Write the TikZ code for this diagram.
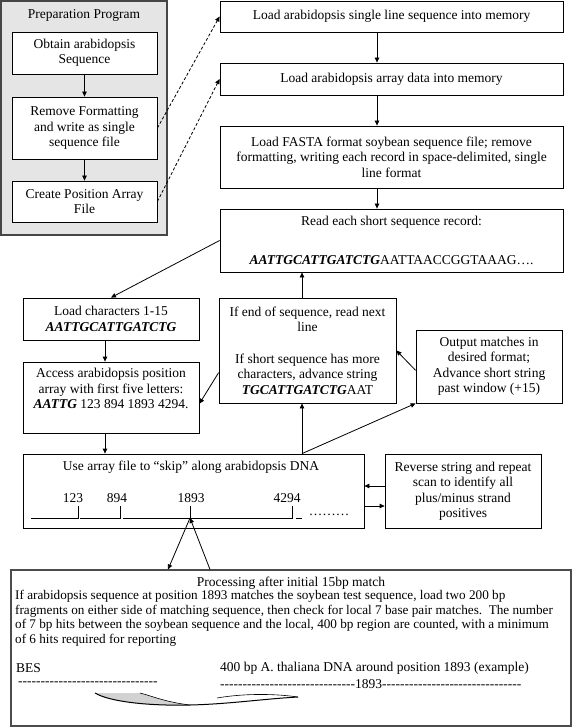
\documentclass[tikz,border=0pt]{standalone}
\usepackage{fontspec}
\setmainfont{Liberation Serif}
\newfontfamily\plainfont{Liberation Serif}[Ligatures=TeXOff]
\usetikzlibrary{arrows.meta}
\begin{document}
\begin{tikzpicture}[x=1pt,y=-1pt,
  every node/.style={font=\fontsize{13.5}{15.5}\selectfont, inner sep=0pt},
  box/.style={draw, fill=white, line width=0.8pt, align=center},
  arr/.style={-{Triangle[length=5pt,width=4.5pt]}, line width=0.8pt},
  dasharr/.style={arr, dash pattern=on 3pt off 2pt},
]
\useasboundingbox (0,0) rectangle (576,727);

% preparation panel
\node[draw=gray!55!black, fill=gray!20, line width=1.2pt, minimum width=166pt, minimum height=234pt] (prep) at (84,118) {};
\node (preptitle) at (84,15) {Preparation Program};
\node[box, minimum width=145pt, minimum height=42pt] (p1) at (84.5,53) {Obtain arabidopsis\\Sequence};
\node[box, minimum width=145pt, minimum height=62pt] (p2) at (84.5,128) {Remove Formatting\\and write as single\\sequence file};
\node[box, minimum width=145pt, minimum height=41pt] (p3) at (84.5,201.5) {Create Position Array\\File};

% right column
\node[box, minimum width=343pt, minimum height=31pt] (r1) at (391.5,16.5) {Load arabidopsis single line sequence into memory};
\node[box, minimum width=343pt, minimum height=32pt] (r2) at (391.5,79) {Load arabidopsis array data into memory};
\node[box, minimum width=343pt, minimum height=62pt] (r3) at (391.5,157) {Load FASTA format soybean sequence file; remove\\formatting, writing each record in space-delimited, single\\line format};
\node[box, minimum width=343pt, minimum height=63pt] (r4) at (391.5,240.5) {Read each short sequence record:\\[24pt]\textbf{\textit{AATTGCATTGATCTG}}AATTAACCGGTAAAG\dots.};

% middle row
\node[box, minimum width=176pt, minimum height=42pt] (lc) at (111,319) {Load characters 1-15\\\textbf{\textit{AATTGCATTGATCTG}}};
\node[box, minimum width=176pt, minimum height=71pt] (ac) at (111,397.5) {};
\node[align=center] (act) at (111,388.5) {Access arabidopsis position\\array with first five letters:\\\textbf{\textit{AATTG}} 123 894 1893 4294.};
\node[box, minimum width=177pt, minimum height=105pt] (mid) at (307.5,350.5) {If end of sequence, read next\\line\\[16pt]If short sequence has more\\characters, advance string\\\textbf{\textit{TGCATTGATCTG}}AAT};
\node[box, minimum width=146pt, minimum height=73pt] (out) at (489,366.5) {Output matches in\\desired format;\\Advance short string\\past window (+15)};

% array row
\node[box, minimum width=341pt, minimum height=74pt] (ua) at (193.5,491) {};
\node (uat) at (191,467) {Use array file to “skip” along arabidopsis DNA};
\node (n123) at (73,498) {123};
\node (n894) at (117,498) {894};
\node (n1893) at (191,498) {1893};
\node (n4294) at (287,498) {4294};
\draw[line width=0.7pt] (31,518) -- (78,518) -- (78,506);
\draw[line width=0.7pt] (80,518) -- (120,518) -- (120,506);
\draw[line width=0.7pt] (123,518) -- (292,518) -- (292,506);
\draw[line width=0.7pt] (190,518) -- (190,506);
\draw[line width=0.7pt] (296,518) -- (302,518);
\node (dots) at (329,515) {………};
\coordinate (t1893) at (190,518);
\node[box, minimum width=156pt, minimum height=74pt] (rv) at (463,491) {Reverse string and repeat\\scan to identify all\\plus/minus strand\\positives};

% bottom box
\node[draw=gray!60!black, line width=1.1pt, minimum width=560pt, minimum height=156pt] (bt) at (291,648) {};
\node (btt) at (291,583) {Processing after initial 15bp match};
\node[anchor=north west, align=left, font=\fontsize{13.2}{14.7}\selectfont] (btp) at (15,590) {If arabidopsis sequence at position 1893 matches the soybean test sequence, load two 200 bp\\fragments on either side of matching sequence, then check for local 7 base pair matches.\ \ The number\\of 7 bp hits between the soybean sequence and the local, 400 bp region are counted, with a minimum\\of 6 hits required for reporting};
\node[anchor=west] (bes) at (16,668) {BES};
\node[anchor=west] (ath) at (220,668) {400 bp A. thaliana DNA around position 1893 (example)};
\node[anchor=west, font=\fontsize{13.5}{15.5}\plainfont] (dl) at (18,684) {-------------------------------};
\node[anchor=west, font=\fontsize{13.5}{15.5}\plainfont] (dr) at (220,684) {------------------------------1893-------------------------------};

% swoosh arrow
\fill[gray!35] (95,693) .. controls (110,702) and (150,706) .. (190,705) .. controls (165,702) and (152,696) .. (140,693) -- cycle;
\draw[line width=0.6pt] (140,693) .. controls (152,696) and (165,702) .. (190,705);
\draw[line width=1pt] (95,693) .. controls (110,702) and (150,706) .. (190,705) .. controls (230,704) and (262,699) .. (298,697);
\draw[line width=0.6pt] (217,698) .. controls (240,694) and (270,693) .. (298,697);

% connectors
\draw[arr] (p1) -- (p2);
\draw[arr] (p2) -- (p3);
\draw[dasharr] (p2.east) -- (r1.west);
\draw[dasharr] (p3.east) -- (r2.west);
\coordinate (vx) at (377,0);
\draw[arr] (r1.south -| vx) -- (r2.north -| vx);
\draw[arr] (r2.south -| vx) -- (r3.north -| vx);
\draw[arr] (r3.south -| vx) -- (r4.north -| vx);
\draw[arr] (r4.west) -- (lc.north);
\coordinate (vl) at (105,0);
\draw[arr] (lc.south -| vl) -- (ac.north -| vl);
\draw[arr] (ac.south -| vl) -- (ua.north -| vl);
\coordinate (vm) at (302,0);
\draw[arr] (mid.north -| vm) -- (r4.south -| vm);
\draw[arr] (mid.-166) -- (ac.-4);
\draw[arr] (out.-177) -- (mid.east);
\draw[arr] (ua.north -| vm) -- (mid.south -| vm);
\draw[arr] (ua.north -| vm) -- (out.south west);
\draw[arr] ([yshift=5pt]rv.west) -- ([yshift=5pt]ua.east);
\draw[arr] ([yshift=-15pt]ua.east) -- ([yshift=-15pt]rv.west);
\draw[arr] (t1893) -- ([xshift=-123pt]bt.north);
\draw[arr] ([xshift=-81pt]bt.north) -- (t1893);
\end{tikzpicture}
\end{document}
